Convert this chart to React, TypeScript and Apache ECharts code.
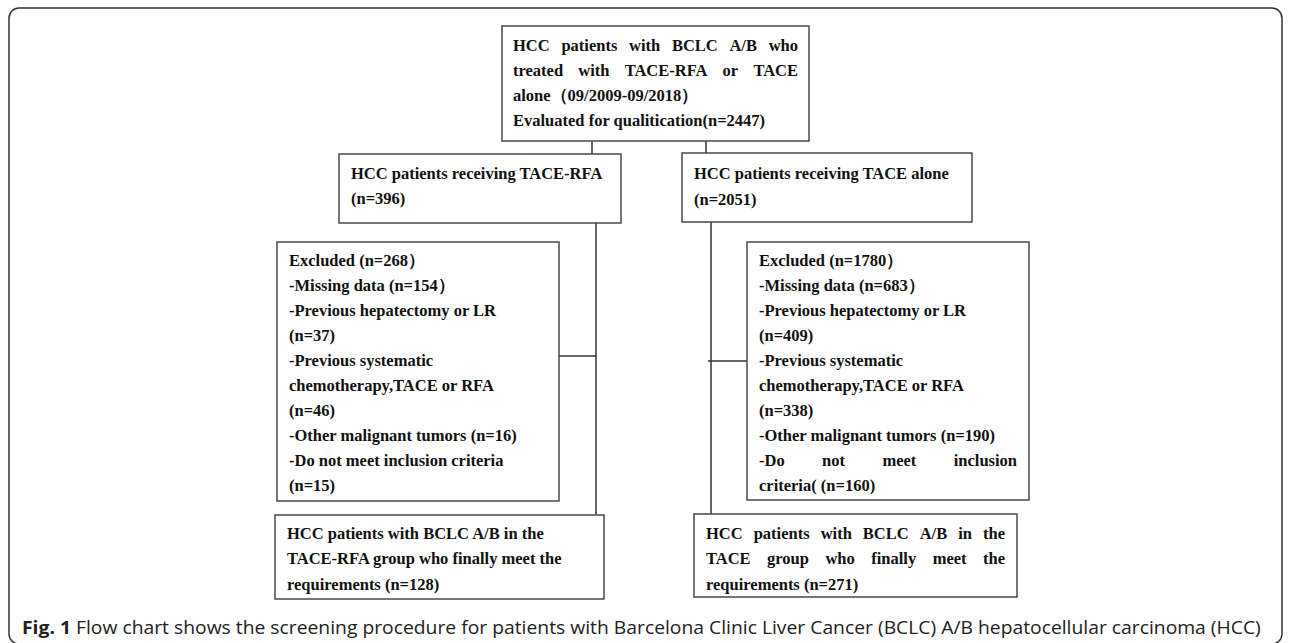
import React, { useEffect, useRef } from "react";
import * as echarts from "echarts";

// ---- Flow chart content ----
const topLines = [
  "HCC patients with BCLC A/B who",
  "treated with TACE-RFA or TACE",
  "alone（09/2009-09/2018）",
  "Evaluated for qualitication(n=2447)",
];
const topJustify = [true, true, false, false];

const leftArmLines = ["HCC patients receiving TACE-RFA", "(n=396)"];
const rightArmLines = ["HCC patients receiving TACE alone", "(n=2051)"];

const leftExcludedLines = [
  "Excluded (n=268）",
  "-Missing data (n=154）",
  "-Previous hepatectomy or LR",
  "(n=37)",
  "-Previous systematic",
  "chemotherapy,TACE or RFA",
  "(n=46)",
  "-Other malignant tumors (n=16)",
  "-Do not meet inclusion criteria",
  "(n=15)",
];
const leftExcludedJustify = [false, false, false, false, false, false, false, false, false, false];

const rightExcludedLines = [
  "Excluded (n=1780）",
  "-Missing data (n=683）",
  "-Previous hepatectomy or LR",
  "(n=409)",
  "-Previous systematic",
  "chemotherapy,TACE or RFA",
  "(n=338)",
  "-Other malignant tumors (n=190)",
  "-Do not meet inclusion",
  "criteria( (n=160)",
];
const rightExcludedJustify = [false, false, false, false, false, false, false, false, true, false];

const leftFinalLines = [
  "HCC patients with BCLC A/B in the",
  "TACE-RFA group who finally meet the",
  "requirements (n=128)",
];
const rightFinalLines = [
  "HCC patients with BCLC A/B in the",
  "TACE group who finally meet the",
  "requirements (n=271)",
];
const rightFinalJustify = [true, true, false];

const captionBold = "Fig. 1";
const captionText =
  " Flow chart shows the screening procedure for patients with Barcelona Clinic Liver Cancer (BCLC) A/B hepatocellular carcinoma (HCC)";

// ---- styling ----
const FONT_SIZE = 16.5;
const FONT_FAMILY = '"Liberation Serif", "Times New Roman", serif';
const TEXT_COLOR = "#111";
const BOX_STROKE = "#4a4a4a";
const LINE_STROKE = "#333";

let measureCtx: CanvasRenderingContext2D | null = null;
function measure(text: string, font: string): number {
  if (!measureCtx) {
    const c = document.createElement("canvas");
    measureCtx = c.getContext("2d");
  }
  if (!measureCtx) return text.length * 8;
  measureCtx.font = font;
  return measureCtx.measureText(text).width;
}

const boxFont = `bold ${FONT_SIZE}px ${FONT_FAMILY}`;

function textLine(
  text: string,
  x: number,
  y: number,
  justifyRight?: number
): any[] {
  const style = {
    fill: TEXT_COLOR,
    fontSize: FONT_SIZE,
    fontFamily: FONT_FAMILY,
    fontWeight: "bold",
    verticalAlign: "middle",
    align: "left",
  };
  if (justifyRight === undefined) {
    return [{ type: "text", x, y, silent: true, style: { ...style, text } }];
  }
  const words = text.split(" ");
  const widths = words.map((w) => measure(w, boxFont));
  const total = widths.reduce((a, b) => a + b, 0);
  const gap = words.length > 1 ? (justifyRight - x - total) / (words.length - 1) : 0;
  const out: any[] = [];
  let cx = x;
  words.forEach((w, i) => {
    out.push({ type: "text", x: cx, y, silent: true, style: { ...style, text: w } });
    cx += widths[i] + gap;
  });
  return out;
}

function block(
  lines: string[],
  x: number,
  y0: number,
  step: number,
  justify?: boolean[],
  right?: number
): any[] {
  const out: any[] = [];
  lines.forEach((l, i) => {
    out.push(...textLine(l, x, y0 + i * step, justify && justify[i] ? right : undefined));
  });
  return out;
}

function box(x1: number, y1: number, x2: number, y2: number): any {
  return {
    type: "rect",
    shape: { x: x1, y: y1, width: x2 - x1, height: y2 - y1 },
    style: { fill: "#fff", stroke: BOX_STROKE, lineWidth: 1.5 },
  };
}

function line(x1: number, y1: number, x2: number, y2: number): any {
  return {
    type: "line",
    shape: { x1, y1, x2, y2 },
    style: { stroke: LINE_STROKE, lineWidth: 1.5 },
  };
}

export default function App() {
  const ref = useRef<HTMLDivElement>(null);

  useEffect(() => {
    document.body.style.margin = "0";
    if (!ref.current) return;
    const chart = echarts.init(ref.current, undefined, { renderer: "svg" });

    const capFontBold = `bold 18px "Open Sans", sans-serif`;
    const capFont = `18px "Open Sans", sans-serif`;
    const capW = measure(captionBold, capFontBold) + measure(captionText, capFont);
    const capScale = 1240 / capW;

    const elements: any[] = [
      // outer frame
      {
        type: "rect",
        shape: { x: 9, y: 8, width: 1273, height: 636, r: 10 },
        style: { fill: "none", stroke: "#333", lineWidth: 1.5 },
      },
      // connectors
      line(592, 141, 592, 154),
      line(706, 141, 706, 153),
      line(596, 223, 596, 515),
      line(559, 356, 596, 356),
      line(711, 222, 711, 514),
      line(708, 361, 747, 361),
      // boxes
      box(502, 26, 809, 141),
      box(339, 154, 621, 223),
      box(682, 153, 972, 222),
      box(277, 242, 559, 501),
      box(747, 242, 1029, 500),
      box(275, 515, 604, 599),
      box(694, 514, 1017, 597),
      // texts
      ...block(topLines, 513, 45, 25, topJustify, 798),
      ...block(leftArmLines, 351, 173, 25),
      ...block(rightArmLines, 694, 173, 26),
      ...block(leftExcludedLines, 289, 260, 25, leftExcludedJustify, 547),
      ...block(rightExcludedLines, 759, 260, 25, rightExcludedJustify, 1017),
      ...block(leftFinalLines, 287, 533, 25.5),
      ...block(rightFinalLines, 706, 533, 25.5, rightFinalJustify, 1005),
      // caption
      {
        type: "text",
        x: 22,
        y: 627,
        scaleX: capScale,
        silent: true,
        style: {
          text: `{b|${captionBold}}${captionText}`,
          fill: "#222",
          fontSize: 18,
          fontFamily: '"Open Sans", sans-serif',
          verticalAlign: "middle",
          align: "left",
          rich: {
            b: {
              fontWeight: "bold",
              fontSize: 18,
              fontFamily: '"Open Sans", sans-serif',
              fill: "#222",
            },
          },
        },
      },
    ];

    chart.setOption({
      animation: false,
      backgroundColor: "#fff",
      graphic: { elements },
    });

    return () => chart.dispose();
  }, []);

  return <div ref={ref} style={{ width: 1290, height: 643 }} />;
}
